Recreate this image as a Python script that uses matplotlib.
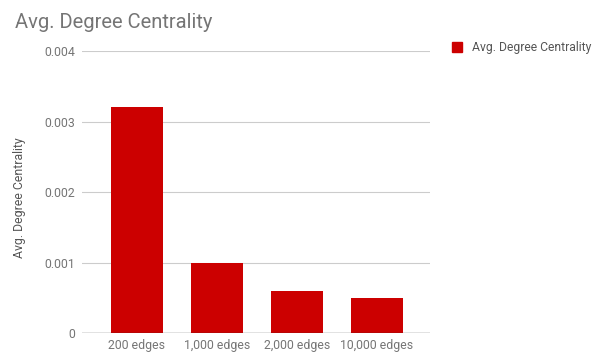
import matplotlib
matplotlib.use("Agg")
import matplotlib.pyplot as plt
from matplotlib.patches import Rectangle

plt.rcParams['font.family'] = ['Roboto', 'DejaVu Sans']

categories = ["200 edges", "1,000 edges", "2,000 edges", "10,000 edges"]
values = [0.0032, 0.0010, 0.0006, 0.0005]
yticks = [0, 0.001, 0.002, 0.003, 0.004]
ytick_labels = ["0", "0.001", "0.002", "0.003", "0.004"]
series_name = "Avg. Degree Centrality"

W, H = 604, 354
fig = plt.figure(figsize=(W / 100, H / 100), dpi=100)
ax = fig.add_axes([82 / W, 1 - 333 / H, (430 - 82) / W, (333 - 51) / H])

bar_color = "#cc0000"
x = list(range(len(categories)))
ax.bar(x, values, width=0.65, color=bar_color, zorder=3)

ax.set_xlim(-0.684, 3.666)
ax.set_ylim(0, 0.004)
ax.set_yticks(yticks)
ax.set_yticklabels(ytick_labels)
ax.set_xticks(x)
ax.set_xticklabels(categories)

ax.grid(axis="y", color="#cccccc", linewidth=0.8, zorder=0)
ax.axhline(0, color="#333333", linewidth=0.9, zorder=4)
for s in ax.spines.values():
    s.set_visible(False)
ax.tick_params(axis="both", length=0, labelsize=8.8)
ax.tick_params(axis="y", pad=5)
ax.tick_params(axis="x", pad=4)
for lbl in ax.get_yticklabels() + ax.get_xticklabels():
    lbl.set_color("#757575")

ax.set_ylabel(series_name, fontsize=8.8, color="#555555")
ax.yaxis.set_label_coords((26 - 82) / (430 - 82), (333 - 198) / (333 - 51))

fig.text(15 / W, 1 - 22 / H, series_name, fontsize=14.5, color="#757575",
         ha="left", va="center")

# legend
fig.patches.append(Rectangle((452 / W, 1 - 52 / H), 10 / W, 10 / H,
                             transform=fig.transFigure, color=bar_color))
fig.text(472 / W, 1 - 47 / H, series_name, fontsize=8.7, color="#555555",
         ha="left", va="center")

fig.savefig("out.png", dpi=100)
